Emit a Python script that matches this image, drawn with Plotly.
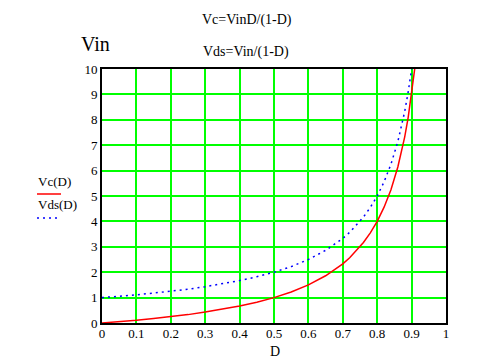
import plotly.graph_objects as go

# Duty cycle samples and values
D_vals = [0, 0.05, 0.1, 0.15, 0.2, 0.25, 0.3, 0.35, 0.4, 0.45, 0.5, 0.55, 0.6, 0.65, 0.7,
          0.72, 0.74, 0.76, 0.78, 0.8, 0.82, 0.84, 0.86, 0.87, 0.88, 0.89, 0.9, 0.905, 0.91]
Vc_vals = [0, 0.05, 0.11, 0.18, 0.25, 0.33, 0.43, 0.54, 0.67, 0.82, 1.0, 1.22, 1.5, 1.86, 2.33,
           2.57, 2.85, 3.17, 3.55, 4.0, 4.56, 5.25, 6.14, 6.69, 7.33, 8.09, 9.0, 9.53, 10.1]
Vds_D = [0, 0.05, 0.1, 0.15, 0.2, 0.25, 0.3, 0.35, 0.4, 0.45, 0.5, 0.55, 0.6, 0.65, 0.7,
         0.72, 0.74, 0.76, 0.78, 0.8, 0.82, 0.84, 0.86, 0.87, 0.88, 0.89, 0.9]
Vds_vals = [1.0, 1.05, 1.11, 1.18, 1.25, 1.33, 1.43, 1.54, 1.67, 1.82, 2.0, 2.22, 2.5, 2.86, 3.33,
            3.57, 3.85, 4.17, 4.55, 5.0, 5.56, 6.25, 7.14, 7.69, 8.33, 9.09, 10.0]

x_ticks = [0, 0.1, 0.2, 0.3, 0.4, 0.5, 0.6, 0.7, 0.8, 0.9, 1]
x_tick_labels = ["0", "0.1", "0.2", "0.3", "0.4", "0.5", "0.6", "0.7", "0.8", "0.9", "1"]
y_ticks = list(range(0, 11))
y_tick_labels = [str(v) for v in y_ticks]

FONT = "Liberation Serif, Times New Roman, serif"

fig = go.Figure()
fig.add_trace(go.Scatter(x=D_vals, y=Vc_vals, mode="lines", line=dict(color="#ff0000", width=1.5),
                         name="Vc(D)", showlegend=False, cliponaxis=True))
fig.add_trace(go.Scatter(x=Vds_D, y=Vds_vals, mode="lines",
                         line=dict(color="#0000ff", width=1.5, dash="2px,4px"),
                         name="Vds(D)", showlegend=False, cliponaxis=True))

W, H = 484, 359
L, R, T, B = 102, 38, 69, 36
pw, ph = W - L - R, H - T - B

def px(x):
    return (x - L) / pw

def py(y):
    return (H - B - y) / ph

fig.update_layout(
    width=W, height=H,
    margin=dict(l=L, r=R, t=T, b=B),
    paper_bgcolor="white", plot_bgcolor="white",
    font=dict(family=FONT, size=13, color="black"),
    showlegend=False,
    xaxis=dict(range=[0, 1], tickvals=x_ticks, ticktext=x_tick_labels, showgrid=True,
               gridcolor="#00ff00", gridwidth=1.5, showline=True, linecolor="black", linewidth=2,
               mirror=True, ticks="", zeroline=False, ticklabelstandoff=-3,
               tickfont=dict(size=13, family=FONT)),
    yaxis=dict(range=[0, 10], tickvals=y_ticks, ticktext=y_tick_labels, showgrid=True,
               gridcolor="#00ff00", gridwidth=1.5, showline=True, linecolor="black", linewidth=2,
               mirror=True, ticks="", zeroline=False, tickfont=dict(size=13, family=FONT)),
    annotations=[
        dict(text="Vc=VinD/(1-D)", x=px(247), y=py(20), xref="paper", yref="paper", showarrow=False,
             font=dict(size=14, family=FONT), xanchor="center", yanchor="middle"),
        dict(text="Vds=Vin/(1-D)", x=px(246), y=py(52), xref="paper", yref="paper", showarrow=False,
             font=dict(size=14, family=FONT), xanchor="center", yanchor="middle"),
        dict(text="Vin", x=px(79), y=py(44), xref="paper", yref="paper", showarrow=False,
             font=dict(size=20, family=FONT), xanchor="left", yanchor="middle"),
        dict(text="Vc(D)", x=px(36), y=py(181), xref="paper", yref="paper", showarrow=False,
             font=dict(size=13, family=FONT), xanchor="left", yanchor="middle"),
        dict(text="Vds(D)", x=px(36), y=py(205), xref="paper", yref="paper", showarrow=False,
             font=dict(size=13, family=FONT), xanchor="left", yanchor="middle"),
        dict(text="D", x=px(275), y=py(351), xref="paper", yref="paper", showarrow=False,
             font=dict(size=14, family=FONT), xanchor="center", yanchor="middle"),
    ],
    shapes=[
        dict(type="line", xref="paper", yref="paper", x0=px(37), x1=px(61), y0=py(194), y1=py(194),
             line=dict(color="#ff0000", width=1.5)),
        dict(type="line", xref="paper", yref="paper", x0=px(37), x1=px(57), y0=py(218), y1=py(218),
             line=dict(color="#0000ff", width=1.5, dash="2px,4px")),
    ],
)

fig.write_html("out.html", config={"displayModeBar": False},
               post_script="document.body.style.margin='0px';document.body.style.overflow='hidden';")
